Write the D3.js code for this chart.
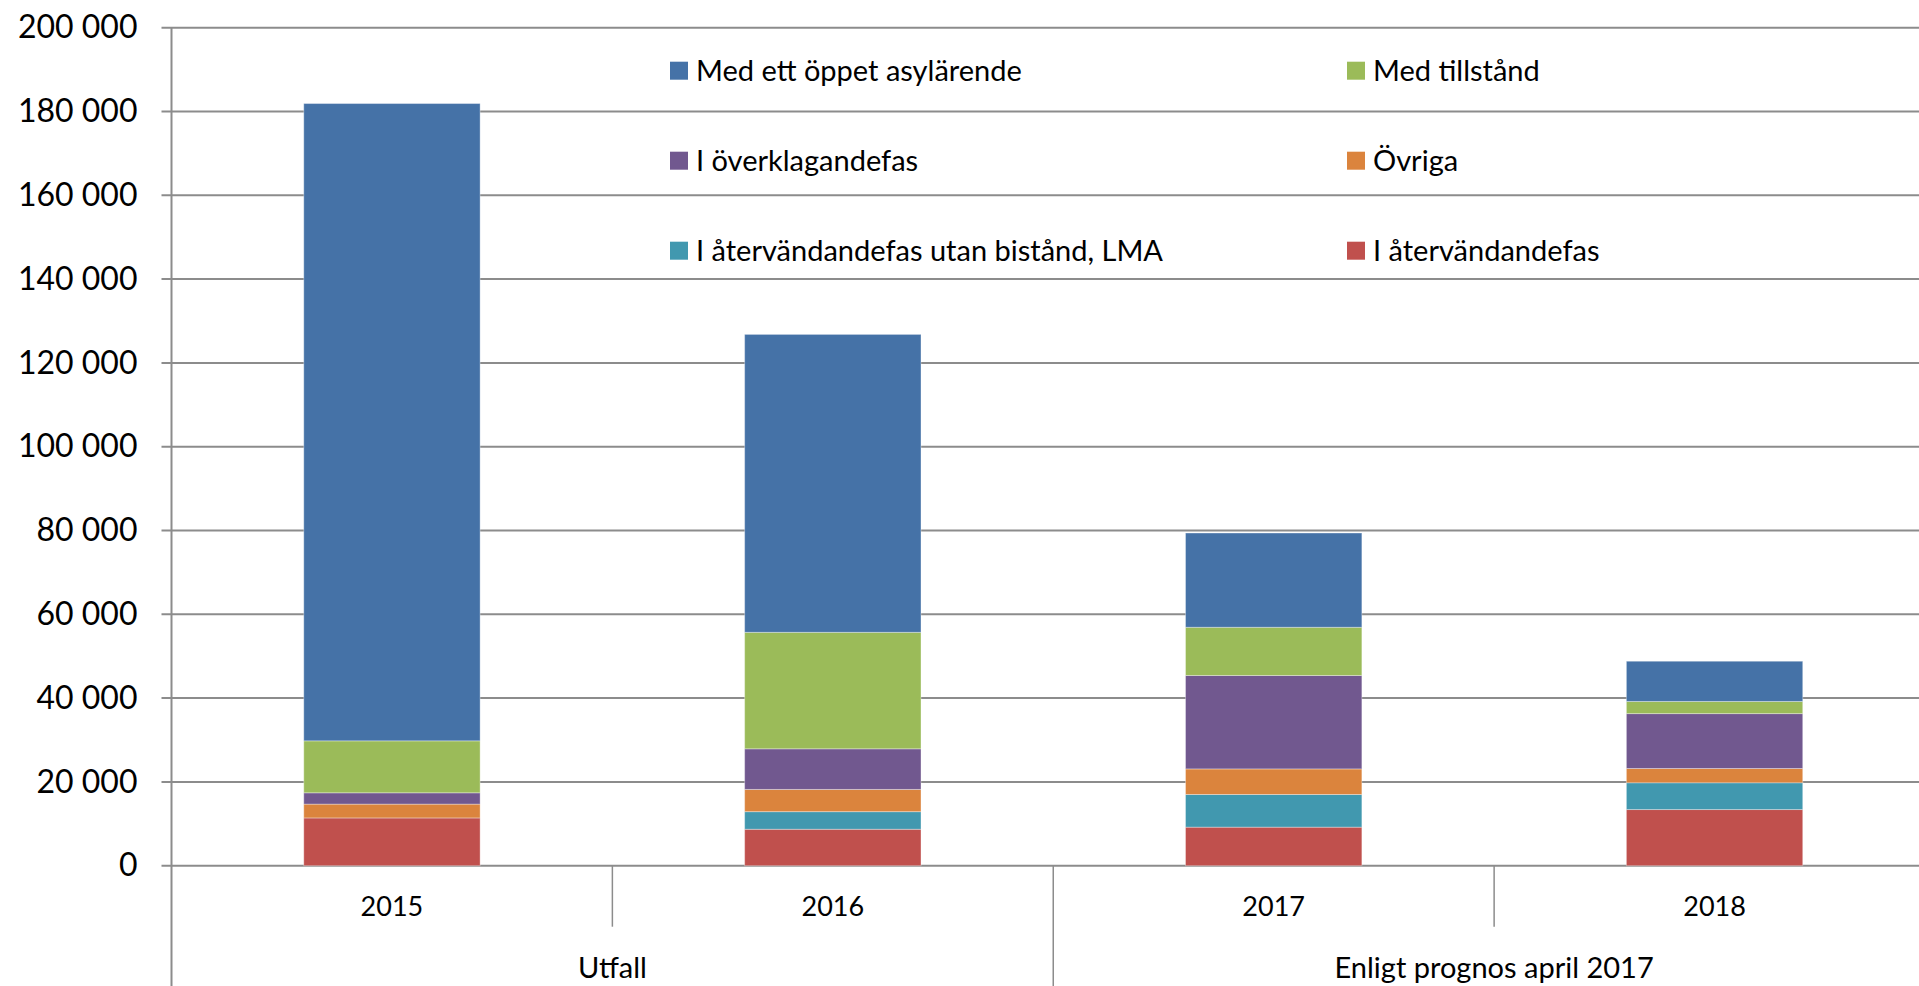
<!doctype html>
<html lang="sv">
<head>
<meta charset="utf-8">
<title>Inskrivna i mottagningssystemet</title>
<script src="https://d3js.org/d3.v7.min.js"></script>
<style>
  html, body { margin: 0; padding: 0; background: #fff; overflow: hidden; }
  svg { display: block; font-family: Lato, "Open Sans", sans-serif; }
</style>
</head>
<body>
<div id="chart"></div>
<script>
// data (number of persons, end of year)
var years = ["2015", "2016", "2017", "2018"];
var groups = [
  { name: "Utfall", years: ["2015", "2016"] },
  { name: "Enligt prognos april 2017", years: ["2017", "2018"] }
];
var series = [
  "I återvändandefas",
  "I återvändandefas utan bistånd, LMA",
  "Övriga",
  "I överklagandefas",
  "Med tillstånd",
  "Med ett öppet asylärende"
];
var returnPhase   = [11400, 8700, 9200, 13400];
var returnNoAid   = [0, 4200, 7800, 6400];
var others        = [3300, 5300, 6100, 3400];
var appealPhase   = [2700, 9700, 22300, 13100];
var withPermit    = [12400, 27800, 11500, 2900];
var openAsylum    = [152100, 71100, 22500, 9600];
var yTicks = [0, 20000, 40000, 60000, 80000, 100000, 120000, 140000, 160000, 180000, 200000];

// legend layout (order as in the reference, two columns)
var legendOrder = [
  "Med ett öppet asylärende", "Med tillstånd",
  "I överklagandefas", "Övriga",
  "I återvändandefas utan bistånd, LMA", "I återvändandefas"
];

var colors = {
  "I återvändandefas": "#c0504d",
  "I återvändandefas utan bistånd, LMA": "#4198af",
  "Övriga": "#db843d",
  "I överklagandefas": "#71588f",
  "Med tillstånd": "#9bbb59",
  "Med ett öppet asylärende": "#4572a7"
};

var W = 1919, H = 986;
// plot area (the right edge runs past the picture, as in the reference)
var plotLeft = 171.5, plotTop = 27.7, plotZero = 865.7, plotRight = 1935;
var gridColor = "#8c8c8c";

var svg = d3.select("#chart").append("svg")
  .attr("width", W)
  .attr("height", H);

// build table for the stack
var cols = [returnPhase, returnNoAid, others, appealPhase, withPermit, openAsylum];
var table = years.map(function(y, i) {
  var row = { year: y };
  series.forEach(function(s, j) { row[s] = cols[j][i]; });
  return row;
});
var stacked = d3.stack().keys(series)(table);

var x = d3.scaleBand()
  .domain(years)
  .range([plotLeft, plotRight])
  .paddingInner(0.6)
  .paddingOuter(0.3);

var y = d3.scaleLinear()
  .domain([0, 200000])
  .range([plotZero, plotTop]);

var fmt = function(d) { return d3.format(",")(d).replace(/,/g, " "); };

// horizontal gridlines
svg.append("g")
  .selectAll("line")
  .data(yTicks)
  .enter()
  .append("line")
    .attr("x1", plotLeft - 10)
    .attr("x2", W)
    .attr("y1", function(d) { return y(d); })
    .attr("y2", function(d) { return y(d); })
    .attr("stroke", gridColor)
    .attr("stroke-width", 2);

// y axis labels
var yAxis = svg.append("g")
  .attr("transform", "translate(" + plotLeft + ",0)")
  .call(d3.axisLeft(y).tickValues(yTicks).tickFormat(fmt).tickSize(0).tickPadding(34));
yAxis.select(".domain").remove();
yAxis.selectAll("text")
  .attr("fill", "#000")
  .style("font-size", "32px")
  .style("font-family", "Lato, sans-serif");

// bars
svg.append("g")
  .selectAll("g")
  .data(stacked)
  .enter()
  .append("g")
    .attr("fill", function(d) { return colors[d.key]; })
  .selectAll("rect")
  .data(function(d) { return d; })
  .enter()
  .append("rect")
    .attr("x", function(d) { return x(d.data.year); })
    .attr("y", function(d) { return y(d[1]); })
    .attr("width", x.bandwidth())
    .attr("height", function(d) { return y(d[0]) - y(d[1]); })
    .attr("stroke", "rgba(255,255,255,0.35)")
    .attr("stroke-width", 1);

// vertical axis line
svg.append("line")
  .attr("x1", plotLeft).attr("x2", plotLeft)
  .attr("y1", y(200000)).attr("y2", H)
  .attr("stroke", gridColor)
  .attr("stroke-width", 2);

// year separators (short) and group separators (long)
var step = x.step();
var catEdge = function(i) { return plotLeft + i * step; };
var groupStarts = [0, 2];
svg.append("g")
  .selectAll("line")
  .data(d3.range(1, years.length))
  .enter()
  .append("line")
    .attr("x1", function(i) { return catEdge(i); })
    .attr("x2", function(i) { return catEdge(i); })
    .attr("y1", plotZero)
    .attr("y2", function(i) { return groupStarts.indexOf(i) >= 0 ? H : plotZero + 61; })
    .attr("stroke", gridColor)
    .attr("stroke-width", 1.5);

// year labels
svg.append("g")
  .selectAll("text")
  .data(years)
  .enter()
  .append("text")
    .attr("x", function(d) { return x(d) + x.bandwidth() / 2; })
    .attr("y", 907)
    .attr("dy", "0.35em")
    .attr("text-anchor", "middle")
    .style("font-size", "27px")
    .text(function(d) { return d; });

// group labels
svg.append("g")
  .selectAll("text")
  .data(groups)
  .enter()
  .append("text")
    .attr("x", function(g) {
      var a = x(g.years[0]), b = x(g.years[g.years.length - 1]) + x.bandwidth();
      return (a + b) / 2;
    })
    .attr("y", 968)
    .attr("dy", "0.35em")
    .attr("text-anchor", "middle")
    .style("font-size", "29px")
    .text(function(g) { return g.name; });

// legend
var legend = svg.append("g")
  .selectAll("g")
  .data(legendOrder)
  .enter()
  .append("g")
    .attr("transform", function(d, i) {
      var cx = i % 2 === 0 ? 670 : 1347;
      var cy = 70.7 + Math.floor(i / 2) * 90;
      return "translate(" + cx + "," + cy + ")";
    });
legend.append("rect")
  .attr("x", 0)
  .attr("y", -9)
  .attr("width", 18)
  .attr("height", 18)
  .attr("fill", function(d) { return colors[d]; });
legend.append("text")
  .attr("x", 26)
  .attr("y", 0)
  .attr("dy", "0.35em")
  .style("font-size", "29px")
  .text(function(d) { return d; });
</script>
</body>
</html>
